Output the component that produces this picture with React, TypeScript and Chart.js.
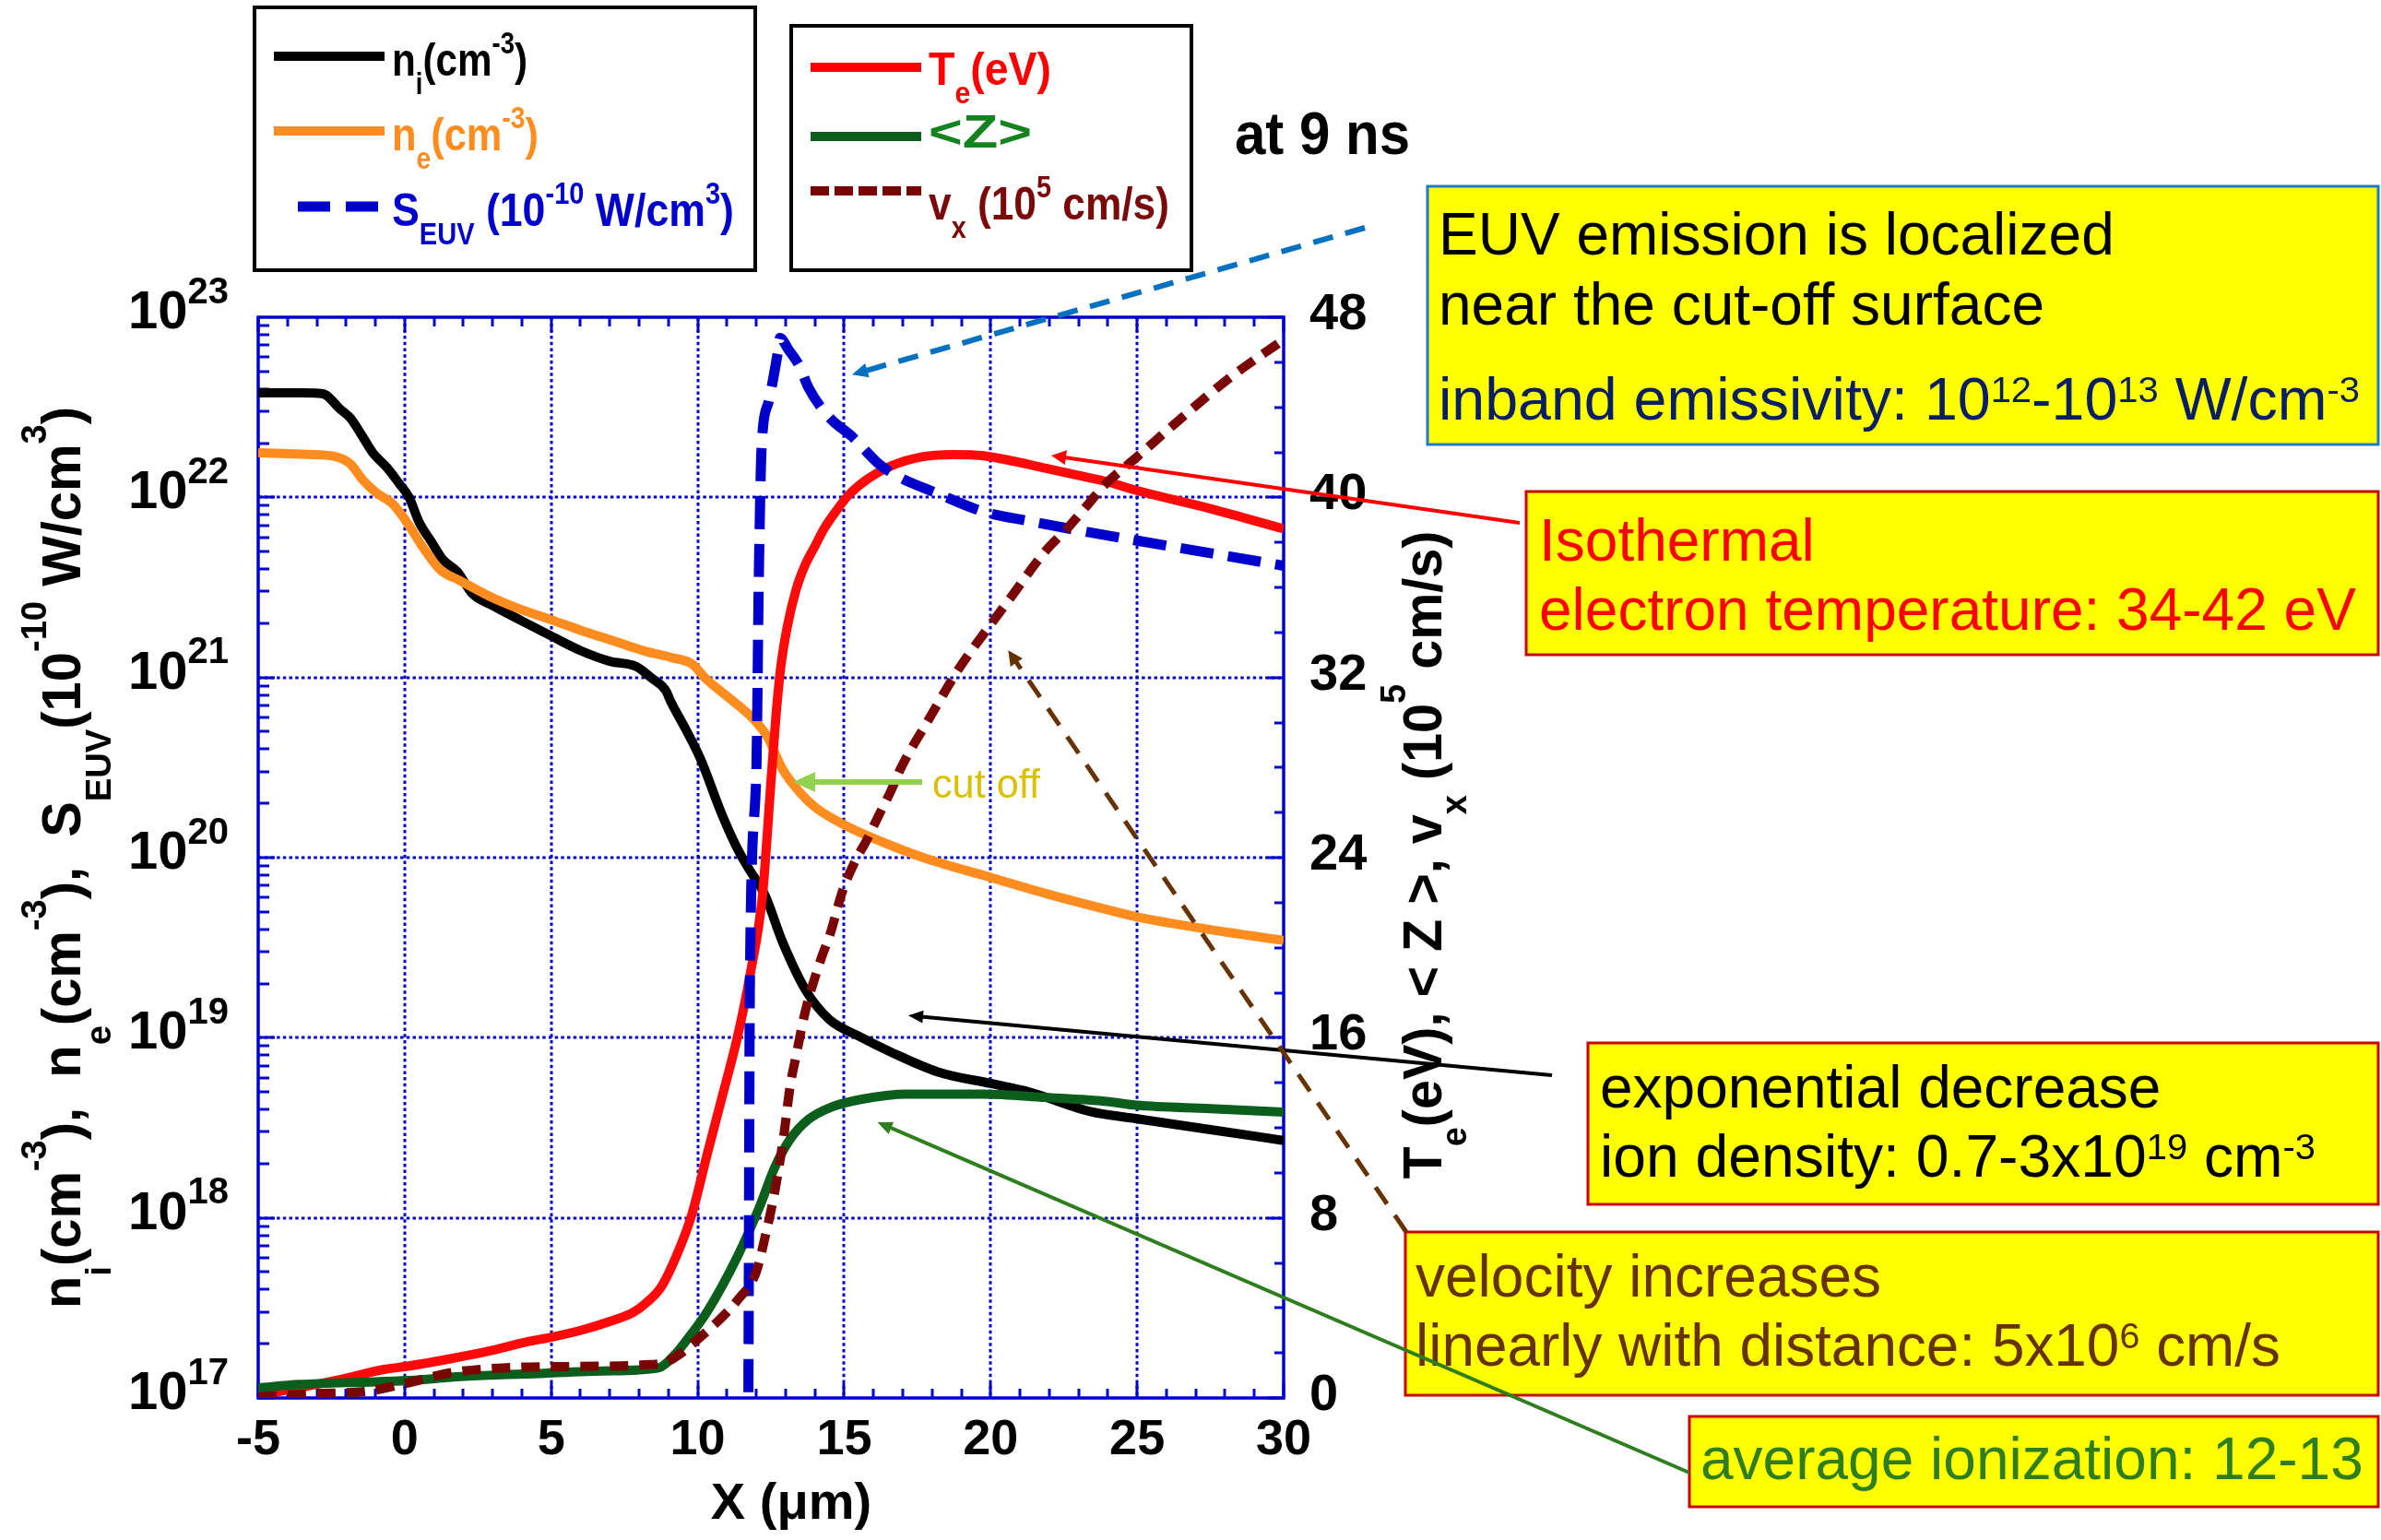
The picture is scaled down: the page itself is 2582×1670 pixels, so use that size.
import React, { useEffect, useRef } from "react";
import { Chart, registerables } from "chart.js";

Chart.register(...registerables);

// ---------------- data ----------------
// ion density n_i (cm^-3)
const NI_X = [-5, -3.5, -2.8, -2.2, -1.85, -1.5, -1.1, -0.6, -0.2, 0.15, 0.5, 0.9, 1.3, 1.8, 2.3, 3.0, 4.0, 5.0, 6.0, 7.0, 7.9, 8.4, 8.9, 9.1, 9.6, 10.1, 10.8, 11.3, 11.7, 12.3, 12.9, 13.7, 14.5, 15.5, 16.6, 18.2, 20.0, 21.3, 23.4, 25.0, 27.5, 30];
const NI = [3.8e22, 3.8e22, 3.76e22, 3.09e22, 2.75e22, 2.26e22, 1.78e22, 1.46e22, 1.2e22, 1.0e22, 7.24e21, 5.71e21, 4.52e21, 3.86e21, 2.93e21, 2.51e21, 2.06e21, 1.7e21, 1.41e21, 1.23e21, 1.15e21, 1.0e21, 8.51e20, 7.24e20, 5.13e20, 3.52e20, 1.78e20, 1.17e20, 8.91e19, 6.17e19, 3.39e19, 1.82e19, 1.26e19, 1.02e19, 8.32e18, 6.46e18, 5.57e18, 5.01e18, 3.89e18, 3.55e18, 3.09e18, 2.69e18];
// electron density n_e (cm^-3)
const NE_X = [-5, -3.3, -2.4, -1.85, -1.45, -1.0, -0.4, 0.15, 0.55, 1.2, 1.9, 2.9, 3.9, 5.0, 6.0, 7.1, 8.2, 9.1, 9.8, 10.3, 11.2, 11.9, 12.4, 12.9, 13.5, 14.0, 14.9, 16.1, 17.7, 20.0, 21.9, 24.0, 25.0, 27.5, 30];
const NE = [1.77e22, 1.73e22, 1.69e22, 1.53e22, 1.26e22, 1.07e22, 9.16e21, 6.97e21, 5.5e21, 3.98e21, 3.44e21, 2.82e21, 2.41e21, 2.09e21, 1.83e21, 1.6e21, 1.4e21, 1.29e21, 1.19e21, 9.77e20, 7.41e20, 5.89e20, 4.62e20, 3.09e20, 2.29e20, 1.91e20, 1.55e20, 1.26e20, 1.0e20, 7.76e19, 6.31e19, 5.13e19, 4.68e19, 3.98e19, 3.47e19];
// S_EUV (10^-10 W/cm^3)
const SEUV_X = [11.72, 11.75, 11.78, 12.0, 12.09, 12.18, 12.42, 12.73, 12.81, 13.1, 13.47, 13.78, 14.52, 15.25, 16.19, 16.82, 18.19, 19.76, 21.33, 23.22, 25.0, 27.5, 30];
const SEUV = [3.16e16, 7.94e17, 1.86e19, 2.88e20, 3.89e21, 1.86e22, 3.39e22, 6.31e22, 7.66e22, 6.61e22, 5.37e22, 4.07e22, 2.75e22, 2.19e22, 1.53e22, 1.31e22, 1.05e22, 8.32e21, 7.38e21, 6.46e21, 5.75e21, 4.9e21, 4.17e21];
// electron temperature T_e (eV)
const TE_X = [-5, -2.3, -0.7, 0.05, 1.6, 2.9, 4.2, 5.0, 6.0, 7.0, 7.8, 8.2, 8.74, 9.27, 9.79, 10.32, 10.84, 11.37, 11.79, 12.21, 12.52, 12.68, 12.84, 13.05, 13.36, 13.67, 13.99, 14.31, 14.73, 15.15, 15.78, 16.61, 17.66, 18.71, 19.76, 20.81, 21.86, 22.9, 23.96, 25.0, 27.5, 30];
const TE = [0.11, 0.79, 1.27, 1.4, 1.75, 2.09, 2.5, 2.7, 3.0, 3.4, 3.8, 4.18, 4.9, 6.3, 8.1, 10.8, 13.4, 16.1, 18.8, 22.3, 27.7, 30.4, 32.5, 34.2, 35.9, 37.0, 37.8, 38.6, 39.4, 40.1, 40.8, 41.4, 41.8, 41.9, 41.85, 41.6, 41.3, 41.0, 40.7, 40.3, 39.5, 38.6];
// average ionization <Z>
const Z_X = [-5, -3.6, -1.0, 0.3, 1.9, 4.0, 6.8, 8.66, 9.2, 9.7, 10.32, 11.37, 12.1, 12.63, 13.15, 13.78, 14.52, 15.56, 17.14, 19.76, 21.86, 23.96, 25.0, 27.5, 30];
const Z = [0.45, 0.6, 0.72, 0.79, 0.95, 1.06, 1.2, 1.34, 1.9, 2.7, 3.82, 6.32, 8.45, 10.24, 11.48, 12.37, 12.9, 13.26, 13.5, 13.5, 13.35, 13.17, 13.0, 12.85, 12.7];
// velocity v_x (10^5 cm/s)
const VX_X = [-5, -3.3, -1.2, 0.05, 1.6, 3.45, 5.8, 8.14, 8.93, 9.45, 9.97, 10.74, 11.37, 12.0, 12.31, 12.63, 12.94, 13.15, 13.36, 13.68, 14.21, 14.52, 14.94, 15.36, 15.78, 16.19, 16.61, 16.93, 17.87, 18.92, 19.97, 20.6, 21.86, 22.6, 23.33, 23.85, 25.0, 26.58, 28.15, 30];
const VX = [0.05, 0.18, 0.31, 0.65, 1.13, 1.34, 1.4, 1.47, 1.6, 2.0, 2.57, 3.47, 4.36, 5.6, 7.2, 9.16, 11.66, 13.8, 15.2, 17.2, 19.5, 20.6, 22.5, 23.8, 24.8, 25.9, 27.0, 27.96, 30.1, 32.4, 34.3, 35.4, 37.6, 38.6, 39.7, 40.5, 41.8, 43.6, 45.3, 47.0];

// tick values
const X_TICKS = [-5, 0, 5, 10, 15, 20, 25, 30];
const YL_EXPONENTS = [17, 18, 19, 20, 21, 22, 23];
const YR_TICKS = [0, 8, 16, 24, 32, 40, 48];

// ---------------- layout / style ----------------
const W = 2582;
const H = 1670;
const AREA = { left: 280, top: 344, right: 1392, bottom: 1516 };
const FONT = '"Liberation Sans", Arial, Helvetica, sans-serif';
const AXIS_BLUE = "#0000CC";

type Part = [string, number]; // 0 normal, 1 superscript, -1 subscript
type RichOpts = {
  x: number; y: number; size: number; color: string; weight?: string;
  align?: "left" | "right" | "center"; width?: number; ss?: number; sup?: number; sub?: number;
};

function richNatural(ctx: CanvasRenderingContext2D, parts: Part[], o: RichOpts) {
  const ss = o.ss ?? 0.65;
  let w = 0;
  for (const [t, k] of parts) {
    ctx.font = `${o.weight || "normal"} ${k ? o.size * ss : o.size}px ${FONT}`;
    w += ctx.measureText(t).width;
  }
  return w;
}

function drawRich(ctx: CanvasRenderingContext2D, parts: Part[], o: RichOpts) {
  const ss = o.ss ?? 0.65;
  const nat = richNatural(ctx, parts, o);
  const sx = o.width ? o.width / nat : 1;
  const total = nat * sx;
  const x0 = o.align === "right" ? o.x - total : o.align === "center" ? o.x - total / 2 : o.x;
  ctx.save();
  ctx.translate(x0, o.y);
  ctx.scale(sx, 1);
  ctx.fillStyle = o.color;
  ctx.textAlign = "left";
  ctx.textBaseline = "alphabetic";
  let cx = 0;
  for (const [t, k] of parts) {
    ctx.font = `${o.weight || "normal"} ${k ? o.size * ss : o.size}px ${FONT}`;
    const dy = k === 1 ? -o.size * (o.sup ?? 0.45) : k === -1 ? o.size * (o.sub ?? 0.3) : 0;
    ctx.fillText(t, cx, dy);
    cx += ctx.measureText(t).width;
  }
  ctx.restore();
}

function seg(ctx: CanvasRenderingContext2D, x0: number, y0: number, x1: number, y1: number) {
  ctx.beginPath();
  ctx.moveTo(x0, y0);
  ctx.lineTo(x1, y1);
  ctx.stroke();
}

function arrow(ctx: CanvasRenderingContext2D, x0: number, y0: number, x1: number, y1: number,
  color: string, lw: number, dash: number[], hl: number, hw: number) {
  const dx = x1 - x0, dy = y1 - y0;
  const L = Math.hypot(dx, dy);
  const ux = dx / L, uy = dy / L;
  const bx = x1 - ux * hl, by = y1 - uy * hl;
  ctx.save();
  ctx.strokeStyle = color;
  ctx.fillStyle = color;
  ctx.lineWidth = lw;
  ctx.lineCap = "butt";
  ctx.setLineDash(dash);
  seg(ctx, x0, y0, bx + ux * 2, by + uy * 2);
  ctx.setLineDash([]);
  ctx.beginPath();
  ctx.moveTo(x1, y1);
  ctx.lineTo(bx - uy * hw, by + ux * hw);
  ctx.lineTo(bx + uy * hw, by - ux * hw);
  ctx.closePath();
  ctx.fill();
  ctx.restore();
}

function box(ctx: CanvasRenderingContext2D, l: number, t: number, r: number, b: number, fill: string | null, stroke: string, lw: number) {
  ctx.save();
  if (fill) {
    ctx.fillStyle = fill;
    ctx.fillRect(l, t, r - l, b - t);
  }
  ctx.strokeStyle = stroke;
  ctx.lineWidth = lw;
  ctx.setLineDash([]);
  ctx.strokeRect(l, t, r - l, b - t);
  ctx.restore();
}

const framePlugin = {
  id: "frame",
  beforeDatasetsDraw(chart: any) {
    const { ctx, chartArea: a, scales } = chart;
    const sx = scales.x, yl = scales.yL, yr = scales.yR;
    ctx.save();
    ctx.strokeStyle = AXIS_BLUE;
    // dotted grid
    ctx.lineWidth = 3;
    ctx.setLineDash([3.5, 3.2]);
    for (const v of X_TICKS) {
      if (v === X_TICKS[0] || v === X_TICKS[X_TICKS.length - 1]) continue;
      const px = Math.round(sx.getPixelForValue(v));
      seg(ctx, px, a.top, px, a.bottom);
    }
    for (const e of YL_EXPONENTS) {
      if (e === YL_EXPONENTS[0] || e === YL_EXPONENTS[YL_EXPONENTS.length - 1]) continue;
      const py = Math.round(yl.getPixelForValue(Math.pow(10, e)));
      seg(ctx, a.left, py, a.right, py);
    }
    ctx.setLineDash([]);
    // ticks
    ctx.lineWidth = 3;
    for (let v = -5; v <= 30; v++) {
      const px = Math.round(sx.getPixelForValue(v));
      const L = v % 5 === 0 ? 16 : 10;
      seg(ctx, px, a.bottom, px, a.bottom - L);
      seg(ctx, px, a.top, px, a.top + L);
    }
    for (let e = 17; e < 23; e++) {
      for (let k = 1; k <= 9; k++) {
        const py = Math.round(yl.getPixelForValue(k * Math.pow(10, e)));
        seg(ctx, a.left, py, a.left + (k === 1 ? 18 : 12), py);
      }
    }
    for (let v = 0; v <= 48; v += 2) {
      const py = Math.round(yr.getPixelForValue(v));
      seg(ctx, a.right, py, a.right - (v % 8 === 0 ? 18 : 10), py);
    }
    // frame
    ctx.lineWidth = 3.5;
    ctx.strokeRect(a.left, a.top, a.right - a.left, a.bottom - a.top);
    ctx.restore();
  },
  afterDraw(chart: any) {
    const { ctx, chartArea: a, scales } = chart;
    const sx = scales.x, yl = scales.yL, yr = scales.yR;
    ctx.save();

    // ---- tick labels ----
    for (const v of X_TICKS) {
      drawRich(ctx, [[String(v), 0]], { x: sx.getPixelForValue(v), y: a.bottom + 61, size: 54, weight: "bold", color: "#000", align: "center" });
    }
    for (const e of YL_EXPONENTS) {
      const py = yl.getPixelForValue(Math.pow(10, e));
      drawRich(ctx, [["10", 0], [String(e), 1]], { x: 248, y: py + 12, size: 58, weight: "bold", color: "#000", align: "right", ss: 0.69, sup: 0.47 });
    }
    for (const v of YR_TICKS) {
      const py = yr.getPixelForValue(v);
      drawRich(ctx, [[String(v), 0]], { x: a.right + 28, y: py + 13, size: 56, weight: "bold", color: "#000" });
    }

    // ---- axis titles ----
    drawRich(ctx, [["X (\u03bcm)", 0]], { x: 858, y: 1647, size: 56, weight: "bold", color: "#000", align: "center" });
    ctx.save();
    ctx.translate(87, (a.top + a.bottom) / 2);
    ctx.rotate(-Math.PI / 2);
    drawRich(ctx, [["n", 0], ["i", -1], ["(cm", 0], ["-3", 1], ["),  n", 0], ["e", -1], ["(cm", 0], ["-3", 1], ["),  S", 0], ["EUV", -1], ["(10", 0], ["-10", 1], [" W/cm", 0], ["3", 1], [")", 0]],
      { x: 0, y: 0, size: 60, weight: "bold", color: "#000", align: "center", width: 978, ss: 0.66, sup: 0.62, sub: 0.55 });
    ctx.restore();
    ctx.save();
    ctx.translate(1563, 927);
    ctx.rotate(-Math.PI / 2);
    drawRich(ctx, [["T", 0], ["e", -1], ["(eV), < Z >, v", 0], ["x", -1], [" (10", 0], ["5", 1], [" cm/s)", 0]],
      { x: 0, y: 0, size: 60, weight: "bold", color: "#000", align: "center", width: 703, ss: 0.66, sup: 0.65, sub: 0.45 });
    ctx.restore();

    // ---- legends ----
    box(ctx, 276, 8, 819, 293, "#ffffff", "#000", 4);
    box(ctx, 858, 28, 1292, 293, "#ffffff", "#000", 4);
    ctx.lineCap = "butt";
    ctx.lineWidth = 10;
    ctx.strokeStyle = "#000000"; seg(ctx, 297, 61, 417, 61);
    ctx.strokeStyle = "#FF8C1E"; seg(ctx, 297, 142, 417, 142);
    ctx.strokeStyle = "#0000CC"; ctx.lineWidth = 11; ctx.setLineDash([35, 17]); seg(ctx, 323, 224, 412, 224);
    ctx.setLineDash([]);
    ctx.lineWidth = 10;
    ctx.strokeStyle = "#FF0000"; seg(ctx, 879, 73, 999, 73);
    ctx.strokeStyle = "#0B5E1C"; seg(ctx, 879, 148, 999, 148);
    ctx.strokeStyle = "#7A0000"; ctx.setLineDash([20, 6]); seg(ctx, 879, 207, 999, 207);
    ctx.setLineDash([]);
    const lg = { size: 50, ss: 0.65, sup: 0.48, sub: 0.4, weight: "bold" };
    drawRich(ctx, [["n", 0], ["i", -1], ["(cm", 0], ["-3", 1], [")", 0]], { ...lg, x: 425, y: 82, color: "#000", width: 147 });
    drawRich(ctx, [["n", 0], ["e", -1], ["(cm", 0], ["-3", 1], [")", 0]], { ...lg, x: 425, y: 163, color: "#FF8C1E", width: 159 });
    drawRich(ctx, [["S", 0], ["EUV", -1], [" (10", 0], ["-10", 1], [" W/cm", 0], ["3", 1], [")", 0]], { ...lg, x: 425, y: 245, color: "#0000CC", width: 371 });
    drawRich(ctx, [["T", 0], ["e", -1], ["(eV)", 0]], { ...lg, x: 1007, y: 92, color: "#FF0000", width: 133 });
    drawRich(ctx, [["<Z>", 0]], { ...lg, x: 1007, y: 160, color: "#14821E", width: 112 });
    drawRich(ctx, [["v", 0], ["x", -1], [" (10", 0], ["5", 1], [" cm/s)", 0]], { ...lg, x: 1007, y: 238, color: "#7A0A0A", width: 261 });

    drawRich(ctx, [["at 9 ns", 0]], { x: 1339, y: 167, size: 64, weight: "bold", color: "#000", width: 190 });

    // ---- annotation boxes ----
    const bt = { size: 64, ss: 0.62, sup: 0.3 };
    box(ctx, 1548, 202, 2579, 482, "#FFFF00", "#1F7AC8", 3);
    drawRich(ctx, [["EUV emission is localized", 0]], { ...bt, x: 1560, y: 276, color: "#000" });
    drawRich(ctx, [["near the cut-off surface", 0]], { ...bt, x: 1560, y: 352, color: "#000" });
    drawRich(ctx, [["inband emissivity: 10", 0], ["12", 1], ["-10", 0], ["13", 1], [" W/cm", 0], ["-3", 1]], { ...bt, x: 1560, y: 455, color: "#0A1E64", width: 999 });

    box(ctx, 1655, 533, 2579, 710, "#FFFF00", "#CC0000", 3);
    drawRich(ctx, [["Isothermal", 0]], { ...bt, x: 1669, y: 608, color: "#FF0000" });
    drawRich(ctx, [["electron temperature: 34-42 eV", 0]], { ...bt, x: 1669, y: 683, color: "#FF0000" });

    box(ctx, 1722, 1131, 2579, 1306, "#FFFF00", "#CC0000", 3);
    drawRich(ctx, [["exponential decrease", 0]], { ...bt, x: 1735, y: 1201, color: "#000" });
    drawRich(ctx, [["ion density: 0.7-3x10", 0], ["19", 1], [" cm", 0], ["-3", 1]], { ...bt, x: 1735, y: 1276, color: "#000", width: 776 });

    box(ctx, 1524, 1336, 2579, 1513, "#FFFF00", "#CC0000", 3);
    drawRich(ctx, [["velocity increases", 0]], { ...bt, x: 1535, y: 1406, color: "#663300" });
    drawRich(ctx, [["linearly with distance: 5x10", 0], ["6", 1], [" cm/s", 0]], { ...bt, x: 1535, y: 1481, color: "#663300", width: 938 });

    box(ctx, 1832, 1536, 2579, 1634, "#FFFF00", "#CC0000", 3);
    drawRich(ctx, [["average ionization: 12-13", 0]], { ...bt, x: 1844, y: 1604, color: "#2E7D1F" });

    // ---- cut-off marker ----
    const cy = yl.getPixelForValue(2.63e20);
    arrow(ctx, sx.getPixelForValue(17.66), cy, sx.getPixelForValue(13.26), cy, "#92D050", 6, [], 24, 11);
    drawRich(ctx, [["cut off", 0]], { x: 1011, y: cy + 17, size: 44, color: "#D9C000", width: 117 });

    // ---- arrows from boxes to curves ----
    arrow(ctx, 1480, 247, sx.getPixelForValue(15.27), yl.getPixelForValue(4.8e22), "#0070C0", 6, [22, 14], 17, 8);
    arrow(ctx, 1648, 567, sx.getPixelForValue(22.07), yr.getPixelForValue(41.86), "#FF0000", 4, [], 16, 8);
    arrow(ctx, 1683, 1166, sx.getPixelForValue(17.19), yl.getPixelForValue(1.33e19), "#000000", 4, [], 16, 7);
    arrow(ctx, 1525, 1336, sx.getPixelForValue(20.6), yr.getPixelForValue(33.2), "#663300", 5, [22, 15], 16, 8);
    arrow(ctx, 1832, 1597, sx.getPixelForValue(16.14), yr.getPixelForValue(12.25), "#2E7D1F", 4, [], 16, 7);

    ctx.restore();
  },
};

function pts(xs: number[], ys: number[]) {
  return xs.map((x, i) => ({ x, y: ys[i] }));
}

export default function App() {
  const ref = useRef<HTMLCanvasElement | null>(null);

  useEffect(() => {
    if (!ref.current) return;
    const common = { pointRadius: 0, borderWidth: 10, cubicInterpolationMode: "monotone", borderCapStyle: "butt", borderJoinStyle: "round", fill: false };
    const chart = new Chart(ref.current, {
      type: "line",
      data: {
        datasets: [
          { ...common, label: "n_i", data: pts(NI_X, NI), yAxisID: "yL", borderColor: "#000000", order: 5 },
          { ...common, label: "n_e", data: pts(NE_X, NE), yAxisID: "yL", borderColor: "#FF8C1E", order: 4 },
          { ...common, label: "S_EUV", data: pts(SEUV_X, SEUV), yAxisID: "yL", borderColor: "#0000CC", borderWidth: 11, borderDash: [36, 16], order: 1 },
          { ...common, label: "T_e", data: pts(TE_X, TE), yAxisID: "yR", borderColor: "#FF0A0A", order: 3 },
          { ...common, label: "<Z>", data: pts(Z_X, Z), yAxisID: "yR", borderColor: "#0B5E1C", order: 2 },
          { ...common, label: "v_x", data: pts(VX_X, VX), yAxisID: "yR", borderColor: "#7A0505", borderWidth: 10, borderDash: [20, 12], order: 0 },
        ] as any,
      },
      options: {
        responsive: false,
        maintainAspectRatio: false,
        animation: false,
        devicePixelRatio: 1,
        events: [],
        layout: { padding: { left: AREA.left, top: AREA.top, right: W - AREA.right, bottom: H - AREA.bottom } },
        plugins: { legend: { display: false }, tooltip: { enabled: false }, title: { display: false } },
        scales: {
          x: { type: "linear", min: -5, max: 30, display: false },
          yL: { type: "logarithmic", min: 1e17, max: 1e23, display: false, position: "left" },
          yR: { type: "linear", min: 0, max: 48, display: false, position: "right" },
        },
      } as any,
      plugins: [framePlugin],
    });
    return () => chart.destroy();
  }, []);

  return (
    <div style={{ position: "absolute", left: 0, top: 0, width: W, height: H, background: "#ffffff" }}>
      <canvas ref={ref} width={W} height={H} style={{ display: "block", width: W, height: H }} />
    </div>
  );
}
